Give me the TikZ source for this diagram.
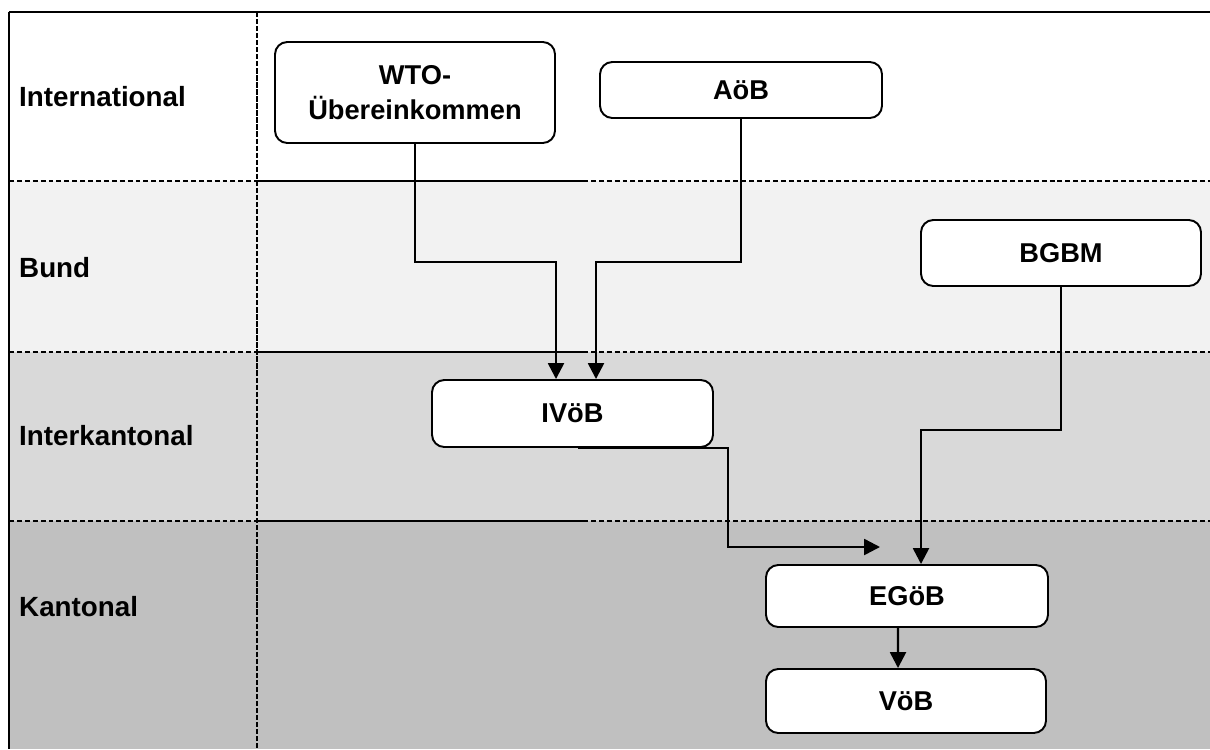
\documentclass[tikz,border=0pt]{standalone}
\usepackage{fontspec}
\setmainfont{Liberation Sans}
\usepackage{tikz}
\usetikzlibrary{arrows.meta}
\usepackage{xcolor}
\definecolor{bundgrau}{HTML}{F2F2F2}
\definecolor{interkgrau}{HTML}{D9D9D9}
\definecolor{kantgrau}{HTML}{C0C0C0}

\begin{document}
\begin{tikzpicture}[
  box/.style={draw, line width=1.1pt, rounded corners=7pt, fill=white, minimum width=5.6cm, font=\fontsize{15.5}{19.5}\selectfont\bfseries, align=center},
  ebene/.style={anchor=west, font=\fontsize{15.8}{18}\selectfont\bfseries},
  pfeil/.style={line width=1.4pt, -{Triangle[length=9pt,width=9pt]}},
  trenn/.style={line width=1.4pt, dash pattern=on 2.8pt off 1.7pt},
  linie/.style={line width=1.4pt}
]
\useasboundingbox (0,0) rectangle (24.2,-14.98);  % Format wie Vorlage

% Hintergrund der Ebenen
\fill[white] (0.18,-0.24) rectangle (24.2,-3.62);  % International
\fill[bundgrau] (0.18,-3.62) rectangle (24.2,-7.04);  % Bund
\fill[interkgrau] (0.18,-7.04) rectangle (24.2,-10.42);  % Interkantonal
\fill[kantgrau] (0.18,-10.42) rectangle (24.2,-14.98);  % Kantonal

% Rahmen und Trennlinien
\draw[linie] (0.18,-0.24) -- (24.2,-0.24);  % oben
\draw[linie] (0.18,-0.24) -- (0.18,-14.98);  % links
\draw[line width=1.4pt, dash pattern=on 3pt off 1pt] (5.14,-0.24) -- (5.14,-14.98);  % Spalte
\draw[trenn] (0.18,-3.62) -- (5.14,-3.62);
\draw[linie] (5.14,-3.62) -- (11.66,-3.62);
\draw[trenn] (11.66,-3.62) -- (24.2,-3.62);
\draw[trenn] (0.18,-7.04) -- (5.14,-7.04);
\draw[linie] (5.14,-7.04) -- (11.66,-7.04);
\draw[trenn] (11.66,-7.04) -- (24.2,-7.04);
\draw[trenn] (0.18,-10.42) -- (5.14,-10.42);
\draw[linie] (5.14,-10.42) -- (11.66,-10.42);
\draw[trenn] (11.66,-10.42) -- (24.2,-10.42);

% Ebenen
\node[ebene] (lint) at (0.26,-1.94) {International};
\node[ebene] (lbund) at (0.26,-5.36) {Bund};
\node[ebene] (linterk) at (0.26,-8.72) {Interkantonal};
\node[ebene] (lkant) at (0.26,-12.14) {Kantonal};

% Erlasse
\node[box, minimum height=2.02cm] (wto) at (8.3,-1.85) {WTO-\\Übereinkommen};
\node[box, minimum width=5.64cm, minimum height=1.12cm] (aob) at (14.82,-1.8) {AöB};
\node[box, minimum height=1.32cm] (bgbm) at (21.22,-5.06) {BGBM};
\node[box, minimum width=5.62cm, minimum height=1.34cm] (ivob) at (11.45,-8.27) {IVöB};
\node[box, minimum width=5.64cm, minimum height=1.24cm] (egob) at (18.14,-11.92) {EGöB};
\node[box, minimum height=1.28cm] (vob) at (18.12,-14.02) {VöB};
\coordinate (ivend) at (17.6,-10.94);  % freies Pfeilende

% Verbindungen
\draw[pfeil] (wto.south) -- (8.3,-5.24) -| ([xshift=-0.33cm]ivob.north);
\draw[pfeil] (aob.south) -- (14.82,-5.24) -| ([xshift=0.47cm]ivob.north);
\draw[pfeil] ([xshift=0.11cm]ivob.south) -| (14.56,-10.94) -- (ivend);
\draw[pfeil] (bgbm.south) -- (21.22,-8.6) -| ([xshift=0.28cm]egob.north);
\draw[pfeil] ([xshift=-0.18cm]egob.south) -- ([xshift=-0.16cm]vob.north);
\end{tikzpicture}
\end{document}
